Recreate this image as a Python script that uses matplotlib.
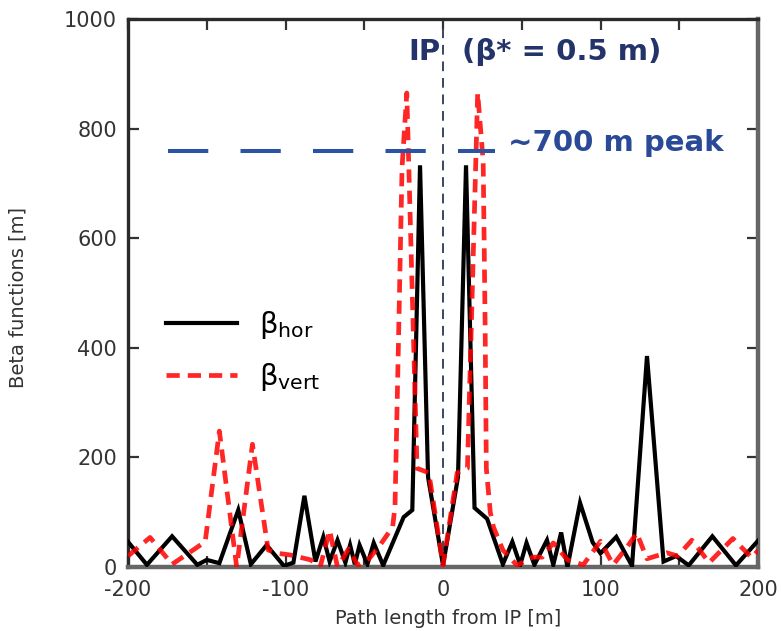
import matplotlib
matplotlib.use("Agg")
import matplotlib.pyplot as plt
from matplotlib.ticker import MultipleLocator

plt.rcParams["axes.unicode_minus"] = False
plt.rcParams["font.family"] = ["DejaVu Sans"]

# Horizontal beta function along the path (s [m], beta [m])
s_hor = [-200, -188, -172, -156, -150, -142, -130, -122, -112, -101, -95, -88,
         -81, -76, -72, -67, -62, -59, -56, -53, -48, -44, -38, -25, -19.5,
         -14.6, -9.5, 0, 9.5, 14.6, 20, 28, 38, 44, 49, 53, 58, 66, 70, 75,
         79, 87, 95, 100, 110, 120, 129.5, 140, 148, 156, 171, 186, 200]
beta_hor = [46, 4, 56, 4, 13, 7, 104, 5, 40, 2, 8, 130,
            10, 55, 10, 49, 8, 40, 5, 40, 5, 44, 3, 91, 104,
            733, 164, 3, 164, 733, 108, 88, 5, 46, 4, 44, 4, 49, 4, 63,
            0, 117, 45, 25, 55, 2, 385, 10, 20, 3, 56, 3, 48]

# Vertical beta function along the path
s_vert = [-200, -186, -172, -151, -142, -131, -121, -111, -105, -97, -84, -78,
          -72, -67, -60, -54, -47, -40, -32, -30.5, -28, -26, -23, -16.5, -9,
          0, 9, 15.5, 22, 25.5, 26.7, 27.5, 30, 32, 38, 47, 57, 63, 70, 79,
          89, 100, 108, 117, 123, 129.5, 142, 149, 158, 169, 184, 196, 200]
beta_vert = [20, 54, 5, 46, 248, 0, 224, 31, 25, 22, 13, 0,
             67, 0, 33, 3, 15, 40, 73, 110, 450, 730, 865, 180, 172,
             3, 172, 180, 865, 740, 450, 180, 100, 73, 31, 3, 18, 18, 44, 13,
             4, 47, 4, 37, 62, 15, 26, 20, 49, 8, 52, 17, 30]

# Reference level for the quadrupole peaks and the IP
peak_level = 760
peak_span = [-174.6, 33]
ip_position = 0

fig = plt.figure(figsize=(7.81, 6.31), dpi=100)
ax = fig.add_axes([0.1639, 0.1014, 0.8067, 0.8685])

ax.plot(s_hor, beta_hor, color="black", lw=3.0, solid_joinstyle="miter",
        label=r"$\mathregular{β_{hor}}$", zorder=3)
ax.plot(s_vert, beta_vert, color="#ff0000", lw=3.4, alpha=0.85,
        linestyle=(0, (2.8, 1.7)), label=r"$\mathregular{β_{vert}}$", zorder=4)

ax.plot([ip_position, ip_position], [0, 1000], color="#3a4560", lw=1.4,
        linestyle=(0, (5, 3.5)), zorder=2)
ax.plot(peak_span, [peak_level, peak_level], color="#2c53a3", lw=2.9,
        linestyle=(0, (10, 8)), zorder=5)

navy = "#24346a"
ax.text(-22, 925, "IP", color=navy, fontsize=21, fontweight="bold",
        ha="left", va="baseline")
ax.text(12, 925, "(β* = 0.5 m)", color=navy, fontsize=21, fontweight="bold",
        ha="left", va="baseline")
ax.text(41, peak_level, "~700 m peak", color="#2a4a98", fontsize=21,
        fontweight="bold", ha="left", va="baseline")

ax.set_xlim(-200, 200)
ax.set_ylim(0, 1000)
ax.xaxis.set_major_locator(MultipleLocator(100))
ax.xaxis.set_minor_locator(MultipleLocator(50))
ax.yaxis.set_major_locator(MultipleLocator(200))

ax.tick_params(axis="both", which="both", direction="in", top=True,
               right=True, length=8, width=1.6, color="#333333",
               labelcolor="#333333", labelsize=15)
ax.tick_params(axis="x", which="major", pad=9)
ax.tick_params(axis="y", which="major", pad=8)

for side in ["top", "left"]:
    ax.spines[side].set_linewidth(2.4)
    ax.spines[side].set_color("#2a2a2a")
for side in ["bottom", "right"]:
    ax.spines[side].set_linewidth(3.2)
    ax.spines[side].set_color("#666666")

ax.set_xlabel("Path length from IP [m]", fontsize=14, color="#333333")
ax.set_ylabel("Beta functions [m]", fontsize=14, color="#333333")
ax.xaxis.set_label_coords(0.508, -0.076)
ax.yaxis.set_label_coords(-0.159, 0.491)

leg = ax.legend(loc="upper left", bbox_to_anchor=(0.018, 0.519),
                frameon=False, fontsize=21, handlelength=2.45,
                handletextpad=0.75, labelspacing=0.7)

fig.savefig("out.png", dpi=100)
